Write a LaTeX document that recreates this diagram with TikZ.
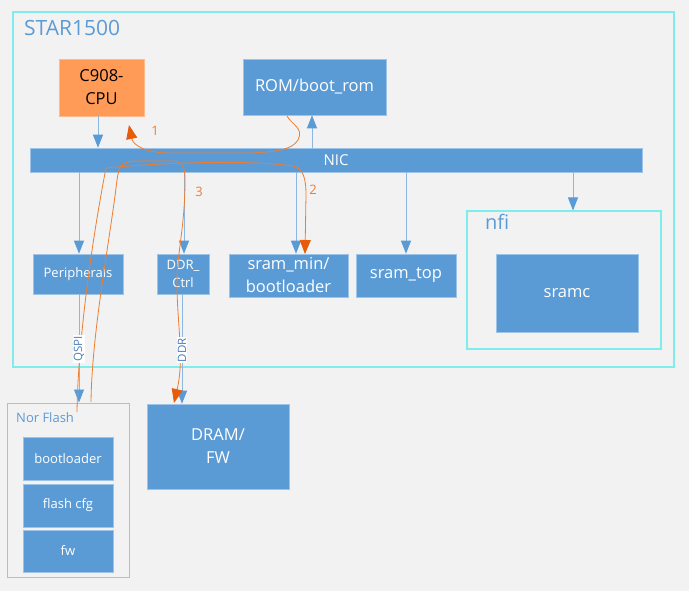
\documentclass[tikz,border=0pt]{standalone}
\usepackage{fontspec}
\setmainfont{Open Sans}
\usetikzlibrary{arrows.meta}
\definecolor{bg}{HTML}{F2F2F2}
\definecolor{boxblue}{HTML}{5B9BD5}
\definecolor{boxedge}{HTML}{9DC3E6}
\definecolor{cyanframe}{HTML}{80EDED}
\definecolor{cpuorange}{HTML}{FF9B57}
\definecolor{cpuedge}{HTML}{FFB98A}
\definecolor{orangeline}{HTML}{ED7D31}
\definecolor{orangehead}{HTML}{E65C0A}
\definecolor{arrowline}{HTML}{8DB6E0}
\definecolor{labeltext}{HTML}{4A7EBB}
\tikzset{
  bluebox/.style={rectangle, fill=boxblue, draw=boxedge, line width=0.6pt, text=white, align=center, inner sep=0pt},
  cyanbox/.style={rectangle, draw=cyanframe, line width=1.1pt, inner sep=0pt},
  norbox/.style={rectangle, draw=boxedge, line width=1pt, inner sep=0pt},
  barrow/.style={draw=arrowline, line width=0.9pt, -{Triangle[width=10pt,length=13pt,color=boxblue]}},
  oarrow/.style={draw=orangeline, line width=0.8pt, -{Triangle[width=11pt,length=14pt,color=orangehead]}},
  olabel/.style={text=orangeline, font=\fontsize{13}{15}\selectfont},
  buslabel/.style={rotate=90, fill=white, inner sep=1pt, text=labeltext, font=\fontsize{11.5}{13}\selectfont},
  big/.style={font=\fontsize{16.5}{23}\selectfont},
  small/.style={font=\fontsize{13}{18}\selectfont},
}
\begin{document}
\begin{tikzpicture}[x=1pt,y=-1pt]
\fill[bg] (0,0) rectangle (689,591);
\useasboundingbox (0,0) rectangle (689,591);

% outer frame
\node[cyanbox, minimum width=661, minimum height=355] (star) at (343.5,189.5) {};
\node[anchor=west, text=boxblue, font=\fontsize{21}{25}\selectfont, inner sep=0pt] (title) at (24,28) {STAR1500};

% top row
\node[rectangle, fill=cpuorange, draw=cpuedge, line width=0.6pt, align=center, inner sep=0pt, big, minimum width=85, minimum height=57] (cpu) at (101.5,87.5) {C908-\\CPU};
\node[bluebox, big, minimum width=143, minimum height=56] (rom) at (314.5,87) {ROM/boot\_rom};

% NIC
\node[bluebox, font=\fontsize{15}{18}\selectfont, minimum width=612, minimum height=24] (nic) at (336,160) {NIC};

% second row
\node[bluebox, small, minimum width=90, minimum height=40] (periph) at (78,274) {Peripherals};
\node[bluebox, small, minimum width=52, minimum height=40] (ddrc) at (183,274) {DDR\_\\Ctrl};
\node[bluebox, big, minimum width=119, minimum height=43] (srammin) at (288.5,275.5) {sram\_min/\\bootloader};
\node[bluebox, big, minimum width=100, minimum height=43] (sramtop) at (406,275.5) {sram\_top};

% nfi
\node[cyanbox, minimum width=194, minimum height=138] (nfi) at (564,280) {};
\node[anchor=west, text=boxblue, font=\fontsize{20}{24}\selectfont, inner sep=0pt] (nfilabel) at (485,222) {nfi};
\node[bluebox, big, minimum width=142, minimum height=78] (sramc) at (567,293) {sramc};

% Nor flash
\node[norbox, minimum width=122, minimum height=174] (nor) at (68,490) {};
\node[anchor=west, text=boxblue, small, inner sep=0pt] (norlabel) at (16,418) {Nor Flash};
\node[bluebox, small, minimum width=90, minimum height=43] (nboot) at (68,458.5) {bootloader};
\node[bluebox, small, minimum width=90, minimum height=43] (ncfg) at (68,505.5) {flash cfg};
\node[bluebox, small, minimum width=90, minimum height=42] (nfw) at (68,551) {fw};

% DRAM
\node[bluebox, big, minimum width=142, minimum height=85] (dram) at (218,446.5) {DRAM/\\FW};

% x positions of connectors
\coordinate (xcpu) at (98,0);
\coordinate (xrom) at (312,0);
\coordinate (xper) at (79,0);
\coordinate (xddr) at (184,0);
\coordinate (xddrb) at (182,0);
\coordinate (xsmin) at (296,0);
\coordinate (xstop) at (406,0);
\coordinate (xnfi) at (573,0);

% blue arrows
\draw[barrow] (cpu.south -| xcpu) -- (nic.north -| xcpu);
\draw[barrow] (nic.north -| xrom) -- (rom.south -| xrom);
\draw[barrow] (nic.south -| xper) -- (periph.north -| xper);
\draw[barrow] (nic.south -| xddr) -- (ddrc.north -| xddr);
\draw[barrow] (nic.south -| xsmin) -- (srammin.north -| xsmin);
\draw[barrow] (nic.south -| xstop) -- (sramtop.north -| xstop);
\draw[barrow] (nic.south -| xnfi) -- (nfi.north -| xnfi);
\draw[barrow] (periph.south -| xper) -- coordinate[pos=0.505] (qspipos) (nor.north -| xper);
\draw[barrow] (ddrc.south -| xddrb) -- coordinate[pos=0.51] (ddrpos) (dram.north -| xddrb);

% orange flow curves
\coordinate (s1) at (287,116);
\coordinate (e1) at (129,125);
\draw[oarrow] (s1) .. controls (292,125) and (304,128) .. (298,140)
  .. controls (292,150) and (275,152) .. (250,153) -- (170,153)
  .. controls (145,153) and (133,145) .. (e1);
\node[olabel] (n1) at (155,131) {1};

\coordinate (s2) at (77,412);
\coordinate (e2) at (305,254);
\draw[oarrow] (s2) .. controls (78,340) and (92,240) .. (106,168)
  .. controls (170,162) and (250,160) .. (293,166)
  .. controls (303,168) and (306,178) .. (306,195) -- (e2);
\node[olabel] (n2) at (313,190) {2};

\coordinate (s3) at (91,402);
\coordinate (e3) at (174,403);
\draw[oarrow] (s3) .. controls (92,330) and (110,240) .. (117,180)
  .. controls (119,165) and (122,162) .. (135,161) -- (172,161)
  .. controls (182,161) and (185,166) .. (185,180)
  .. controls (185,230) and (176,255) .. (177,290)
  .. controls (178,330) and (184,360) .. (e3);
\node[olabel] (n3) at (199,192) {3};

% bus labels on top
\node[buslabel] (qspi) at (qspipos) {QSPI};
\node[buslabel] (ddr) at (ddrpos) {DDR};
\end{tikzpicture}
\end{document}
